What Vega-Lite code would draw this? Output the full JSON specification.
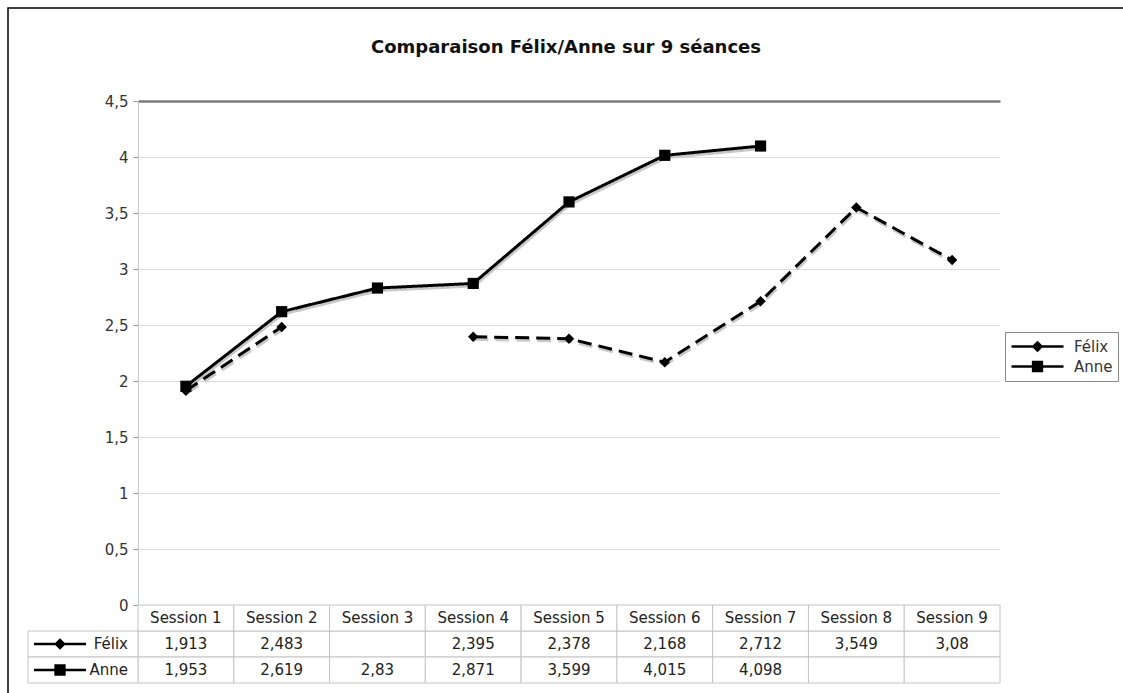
{
  "$schema": "https://vega.github.io/schema/vega-lite/v6.json",
  "autosize": "none",
  "width": 1116,
  "height": 686,
  "padding": {"left": 8, "top": 8, "right": 0, "bottom": 0},
  "background": "white",
  "title": {"text": "Comparaison Félix/Anne sur 9 séances", "font": "DejaVu Sans", "fontSize": 18, "fontWeight": "bold", "color": "#111", "anchor": "middle", "offset": -49},
  "config": {
    "locale": {"number": {"decimal": ",", "thousands": " ", "grouping": [3], "currency": ["", " €"]}},
    "view": {"stroke": "black", "strokeWidth": 1.5},
    "font": "DejaVu Sans"
  },
  "datasets": {
    "scores": [
      {"session": "Session 1", "series": "Félix", "value": 1.913},
      {"session": "Session 2", "series": "Félix", "value": 2.483},
      {"session": "Session 3", "series": "Félix", "value": null},
      {"session": "Session 4", "series": "Félix", "value": 2.395},
      {"session": "Session 5", "series": "Félix", "value": 2.378},
      {"session": "Session 6", "series": "Félix", "value": 2.168},
      {"session": "Session 7", "series": "Félix", "value": 2.712},
      {"session": "Session 8", "series": "Félix", "value": 3.549},
      {"session": "Session 9", "series": "Félix", "value": 3.08},
      {"session": "Session 1", "series": "Anne", "value": 1.953},
      {"session": "Session 2", "series": "Anne", "value": 2.619},
      {"session": "Session 3", "series": "Anne", "value": 2.83},
      {"session": "Session 4", "series": "Anne", "value": 2.871},
      {"session": "Session 5", "series": "Anne", "value": 3.599},
      {"session": "Session 6", "series": "Anne", "value": 4.015},
      {"session": "Session 7", "series": "Anne", "value": 4.098},
      {"session": "Session 8", "series": "Anne", "value": null},
      {"session": "Session 9", "series": "Anne", "value": null}
    ]
  },
  "data": {"name": "scores"},
  "layer": [
    {
      "mark": {"type": "rect", "fill": "white", "stroke": "#c4c4c4", "strokeWidth": 1},
      "encoding": {
        "x": {"field": "session", "type": "nominal", "scale": {"type": "band", "domain": ["Session 1","Session 2","Session 3","Session 4","Session 5","Session 6","Session 7","Session 8","Session 9"], "range": [130, 992], "paddingInner": 0, "paddingOuter": 0}, "axis": null},
        "y": {"field": "series", "type": "nominal", "scale": {"type": "band", "domain": ["Session", "Félix", "Anne"], "range": [597, 675], "paddingInner": 0, "paddingOuter": 0}, "axis": null}
      }
    },
    {
      "transform": [{"filter": "datum.series == 'Félix'"}],
      "mark": {"type": "rect", "fill": "white", "stroke": "#c4c4c4", "strokeWidth": 1},
      "encoding": {
        "x": {"field": "session", "type": "nominal", "scale": {"type": "band", "domain": ["Session 1","Session 2","Session 3","Session 4","Session 5","Session 6","Session 7","Session 8","Session 9"], "range": [130, 992], "paddingInner": 0, "paddingOuter": 0}, "axis": null},
        "y": {"datum": "Session", "type": "nominal", "scale": {"type": "band", "domain": ["Session", "Félix", "Anne"], "range": [597, 675], "paddingInner": 0, "paddingOuter": 0}, "axis": null}
      }
    },
    {
      "transform": [{"filter": "datum.session == 'Session 1'"}],
      "mark": {"type": "rect", "fill": "white", "stroke": "#c4c4c4", "strokeWidth": 1},
      "encoding": {
        "x": {"datum": "label", "type": "nominal", "scale": {"type": "band", "domain": ["label"], "range": [20, 130], "paddingInner": 0, "paddingOuter": 0}, "axis": null},
        "y": {"field": "series", "type": "nominal", "scale": {"type": "band", "domain": ["Session", "Félix", "Anne"], "range": [597, 675], "paddingInner": 0, "paddingOuter": 0}, "axis": null}
      }
    },
    {
      "transform": [{"filter": "datum.value != null"}],
      "mark": {"type": "text", "fontSize": 15, "color": "#222"},
      "encoding": {
        "x": {"field": "session", "type": "nominal", "scale": {"type": "band", "domain": ["Session 1","Session 2","Session 3","Session 4","Session 5","Session 6","Session 7","Session 8","Session 9"], "range": [130, 992], "paddingInner": 0, "paddingOuter": 0}, "axis": null},
        "y": {"field": "series", "type": "nominal", "scale": {"type": "band", "domain": ["Session", "Félix", "Anne"], "range": [597, 675], "paddingInner": 0, "paddingOuter": 0}, "axis": null},
        "text": {"field": "value", "type": "quantitative", "format": ".3~f"}
      }
    },
    {
      "transform": [{"filter": "datum.series == 'Félix'"}],
      "mark": {"type": "text", "fontSize": 15, "color": "#222"},
      "encoding": {
        "x": {"field": "session", "type": "nominal", "scale": {"type": "band", "domain": ["Session 1","Session 2","Session 3","Session 4","Session 5","Session 6","Session 7","Session 8","Session 9"], "range": [130, 992], "paddingInner": 0, "paddingOuter": 0}, "axis": null},
        "y": {"datum": "Session", "type": "nominal", "scale": {"type": "band", "domain": ["Session", "Félix", "Anne"], "range": [597, 675], "paddingInner": 0, "paddingOuter": 0}, "axis": null},
        "text": {"field": "session", "type": "nominal"}
      }
    },
    {
      "transform": [{"filter": "datum.session == 'Session 1'"}],
      "mark": {"type": "text", "fontSize": 15, "color": "#222", "align": "right", "dx": 45},
      "encoding": {
        "x": {"datum": "label", "type": "nominal", "scale": {"type": "band", "domain": ["label"], "range": [20, 130], "paddingInner": 0, "paddingOuter": 0}, "axis": null},
        "y": {"field": "series", "type": "nominal", "scale": {"type": "band", "domain": ["Session", "Félix", "Anne"], "range": [597, 675], "paddingInner": 0, "paddingOuter": 0}, "axis": null},
        "text": {"field": "series", "type": "nominal"}
      }
    },
    {
      "transform": [{"filter": "datum.session == 'Session 1'"}],
      "mark": {"type": "point", "filled": false, "opacity": 1, "fill": "black", "fillOpacity": 1, "stroke": "black", "strokeWidth": 2.5, "size": 256, "xOffset": -23},
      "encoding": {
        "x": {"datum": "label", "type": "nominal", "scale": {"type": "band", "domain": ["label"], "range": [20, 130], "paddingInner": 0, "paddingOuter": 0}, "axis": null},
        "y": {"field": "series", "type": "nominal", "scale": {"type": "band", "domain": ["Session", "Félix", "Anne"], "range": [597, 675], "paddingInner": 0, "paddingOuter": 0}, "axis": null},
        "shape": {"field": "series", "type": "nominal",
          "scale": {"domain": ["Félix", "Anne"], "range": ["M-3.25,0H3.25M-0.5,0L0,-0.5L0.5,0L0,0.5Z", "M-3.25,0H3.25M-0.55,-0.55H0.55V0.55H-0.55Z"]},
          "legend": {"orient": "none", "legendX": 997, "legendY": 324, "title": null, "strokeColor": "#888", "padding": 5, "labelFont": "DejaVu Sans", "labelFontSize": 15, "labelColor": "#333", "symbolSize": 256, "rowPadding": 1, "symbolOffset": 18, "labelOffset": 27, "symbolStrokeWidth": 2.5, "symbolOpacity": 1,
            "encode": {"symbols": {"stroke": {"value": "black"}, "strokeWidth": {"value": 2.5}, "strokeOpacity": {"value": 1}, "fill": {"value": "black"}, "fillOpacity": {"value": 1}}}}}
      }
    },
    {
      "mark": {"type": "line", "strokeWidth": 3, "color": "#c8c8c8", "xOffset": 1, "yOffset": 2.5, "invalid": "break-paths-show-domains"},
      "encoding": {
        "x": {"field": "session", "type": "nominal", "scale": {"type": "band", "domain": ["Session 1","Session 2","Session 3","Session 4","Session 5","Session 6","Session 7","Session 8","Session 9"], "range": [130, 992], "paddingInner": 0, "paddingOuter": 0}, "axis": null},
        "y": {"field": "value", "type": "quantitative", "scale": {"domain": [0, 4.5], "nice": false, "zero": false, "range": [597, 93]}, "axis": null},
        "strokeDash": {"field": "series", "type": "nominal", "scale": {"domain": ["Anne", "Félix"], "range": [[1, 0], [14, 7]]}, "legend": null}
      }
    },
    {
      "mark": {"type": "line", "strokeWidth": 3, "color": "black", "invalid": "break-paths-show-domains"},
      "encoding": {
        "x": {"field": "session", "type": "nominal", "scale": {"type": "band", "domain": ["Session 1","Session 2","Session 3","Session 4","Session 5","Session 6","Session 7","Session 8","Session 9"], "range": [130, 992], "paddingInner": 0, "paddingOuter": 0}, "axis": null},
        "y": {"field": "value", "type": "quantitative", "scale": {"domain": [0, 4.5], "nice": false, "zero": false, "range": [597, 93]},
          "axis": {"orient": "left", "offset": -130, "values": [0, 0.5, 1, 1.5, 2, 2.5, 3, 3.5, 4, 4.5], "format": ".1~f", "title": null, "domainColor": "#c8c8c8", "tickColor": "#999", "tickSize": 5, "labelFont": "DejaVu Sans", "labelFontSize": 15, "labelColor": "#333", "labelPadding": 5, "grid": true,
            "gridColor": {"condition": {"test": "datum.value == 4.5", "value": "#7a7a7a"}, "value": "#dcdcdc"},
            "gridWidth": {"condition": {"test": "datum.value == 4.5", "value": 2.5}, "value": 1}}},
        "strokeDash": {"field": "series", "type": "nominal", "scale": {"domain": ["Anne", "Félix"], "range": [[1, 0], [14, 7]]}, "legend": null}
      }
    },
    {
      "transform": [{"filter": "datum.series == 'Félix'"}],
      "mark": {"type": "point", "filled": true, "opacity": 1, "color": "black", "size": 110, "shape": "diamond"},
      "encoding": {
        "x": {"field": "session", "type": "nominal", "scale": {"type": "band", "domain": ["Session 1","Session 2","Session 3","Session 4","Session 5","Session 6","Session 7","Session 8","Session 9"], "range": [130, 992], "paddingInner": 0, "paddingOuter": 0}, "axis": null},
        "y": {"field": "value", "type": "quantitative", "scale": {"domain": [0, 4.5], "nice": false, "zero": false, "range": [597, 93]}, "axis": null}
      }
    },
    {
      "transform": [{"filter": "datum.series == 'Anne'"}],
      "mark": {"type": "point", "filled": true, "opacity": 1, "color": "black", "size": 125, "shape": "square"},
      "encoding": {
        "x": {"field": "session", "type": "nominal", "scale": {"type": "band", "domain": ["Session 1","Session 2","Session 3","Session 4","Session 5","Session 6","Session 7","Session 8","Session 9"], "range": [130, 992], "paddingInner": 0, "paddingOuter": 0}, "axis": null},
        "y": {"field": "value", "type": "quantitative", "scale": {"domain": [0, 4.5], "nice": false, "zero": false, "range": [597, 93]}, "axis": null}
      }
    }
  ],
  "resolve": {"scale": {"x": "independent", "y": "independent"}, "axis": {"x": "independent", "y": "independent"}}
}
